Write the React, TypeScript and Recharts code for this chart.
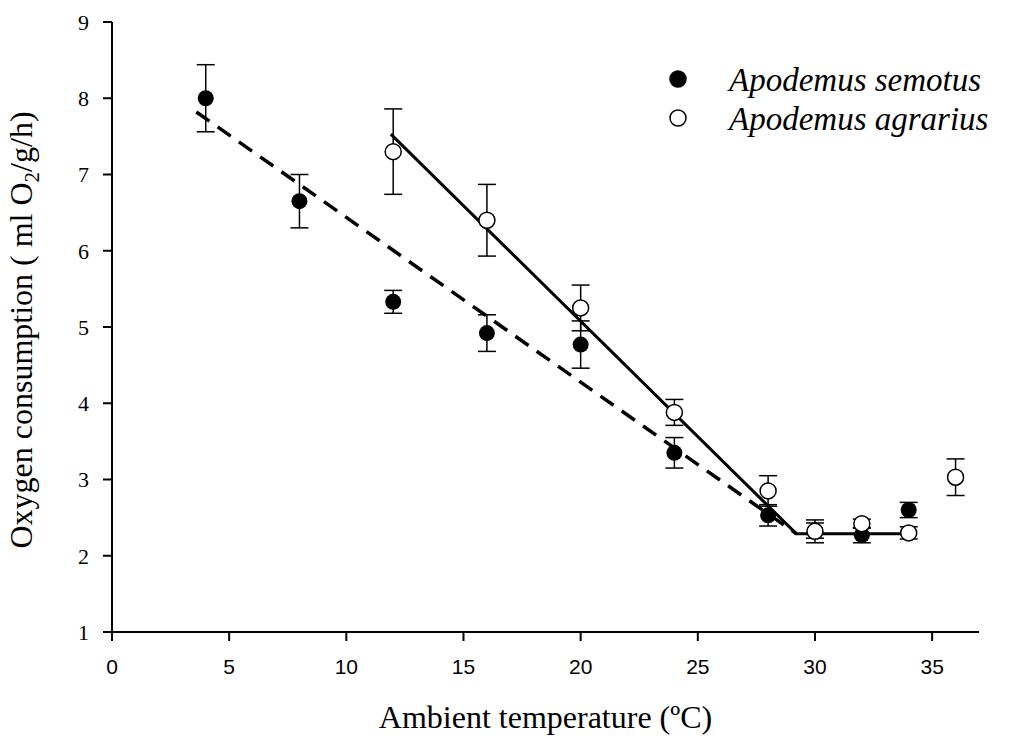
import { ComposedChart, Scatter, Line, XAxis, YAxis, ErrorBar } from 'recharts';

// mean +/- SE
const semotusTemp = [4, 8, 12, 16, 20, 24, 28, 30, 32, 34];
const semotusMean = [8.0, 6.65, 5.33, 4.92, 4.77, 3.35, 2.53, 2.33, 2.27, 2.6];
const semotusSe = [0.44, 0.35, 0.15, 0.24, 0.31, 0.2, 0.14, 0.1, 0.1, 0.1];

const agrariusTemp = [12, 16, 20, 24, 28, 30, 32, 34, 36];
const agrariusMean = [7.3, 6.4, 5.25, 3.88, 2.85, 2.32, 2.42, 2.3, 3.03];
const agrariusSe = [0.56, 0.47, 0.3, 0.17, 0.2, 0.15, 0.06, 0.08, 0.24];

// fitted regression lines
const semotusFitX = [3.6, 29.2];
const semotusFitY = [7.82, 2.29];
const agrariusFitX = [11.9, 29.2, 34];
const agrariusFitY = [7.53, 2.29, 2.29];

const xTicks = [0, 5, 10, 15, 20, 25, 30, 35];
const yTicks = [1, 2, 3, 4, 5, 6, 7, 8, 9];

const semotus = semotusTemp.map((x, i) => ({ x, y: semotusMean[i], err: semotusSe[i] }));
const agrarius = agrariusTemp.map((x, i) => ({ x, y: agrariusMean[i], err: agrariusSe[i] }));
const semotusFit = semotusFitX.map((x, i) => ({ x, fit: semotusFitY[i] }));
const agrariusFit = agrariusFitX.map((x, i) => ({ x, fit: agrariusFitY[i] }));

const filledDot = (props: any) => <circle cx={props.cx} cy={props.cy} r={8} fill="#000" />;
const openDot = (props: any) => (
  <circle cx={props.cx} cy={props.cy} r={8} fill="#fff" stroke="#000" strokeWidth={1.5} />
);

const legendItems = [
  { name: 'Apodemus semotus', filled: true },
  { name: 'Apodemus agrarius', filled: false },
];

// legend drawn as an overlay, top-right of the plot
function SpeciesLegend() {
  return (
    <svg width={1009} height={738} style={{ position: 'absolute', left: 0, top: 0, pointerEvents: 'none' }}>
      {legendItems.map((item, i) => (
        <g key={item.name}>
          <circle
            cx={678}
            cy={79 + i * 39}
            r={8}
            fill={item.filled ? '#000' : '#fff'}
            stroke="#000"
            strokeWidth={1.5}
          />
          <text
            x={729}
            y={91 + i * 39}
            fontFamily="Liberation Serif"
            fontStyle="italic"
            fontSize={33}
            fill="#000"
          >
            {item.name}
          </text>
        </g>
      ))}
    </svg>
  );
}

export default function App() {
  return (
    <div style={{ position: 'absolute', left: 0, top: 0, width: 1009, height: 738, background: '#fff' }}>
      <ComposedChart width={1009} height={738} margin={{ top: 22, right: 30, left: 0, bottom: 0 }}>
        <XAxis
          dataKey="x"
          type="number"
          domain={[0, 37]}
          ticks={xTicks}
          allowDataOverflow
          stroke="#000"
          strokeWidth={2}
          tickSize={9}
          tickMargin={18}
          height={106}
          tick={{ fill: '#000', fontSize: 21, fontFamily: 'Liberation Sans' }}
          label={{
            value: 'Ambient temperature (ºC)',
            position: 'insideBottom',
            offset: 10,
            style: { fill: '#000', fontSize: 32, fontFamily: 'Liberation Serif' },
          }}
        />
        <YAxis
          type="number"
          domain={[1, 9]}
          ticks={yTicks}
          stroke="#000"
          strokeWidth={2}
          tickSize={9}
          tickMargin={14}
          width={112}
          tick={{ fill: '#000', fontSize: 22, fontFamily: 'Liberation Serif' }}
          label={{
            content: () => (
              <text
                x={32}
                y={330}
                transform="rotate(-90 32 330)"
                textAnchor="middle"
                fill="#000"
                fontSize={32}
                fontFamily="Liberation Serif"
              >
                Oxygen consumption ( ml O
                <tspan fontSize={21} dy={7}>2</tspan>
                <tspan dy={-7}>/g/h)</tspan>
              </text>
            ),
          }}
        />
        <Scatter name="Apodemus semotus" data={semotus} dataKey="y" shape={filledDot} isAnimationActive={false}>
          <ErrorBar dataKey="err" direction="y" width={9} stroke="#000" strokeWidth={1.5} />
        </Scatter>
        <Scatter name="Apodemus agrarius" data={agrarius} dataKey="y" shape={openDot} isAnimationActive={false}>
          <ErrorBar dataKey="err" direction="y" width={9} stroke="#000" strokeWidth={1.5} />
        </Scatter>
        <Line
          data={semotusFit}
          dataKey="fit"
          stroke="#000"
          strokeWidth={3.5}
          strokeDasharray="16 10"
          dot={false}
          activeDot={false}
          isAnimationActive={false}
          legendType="none"
        />
        <Line
          data={agrariusFit}
          dataKey="fit"
          stroke="#000"
          strokeWidth={3}
          dot={false}
          activeDot={false}
          isAnimationActive={false}
          legendType="none"
        />
      </ComposedChart>
      <SpeciesLegend />
    </div>
  );
}
